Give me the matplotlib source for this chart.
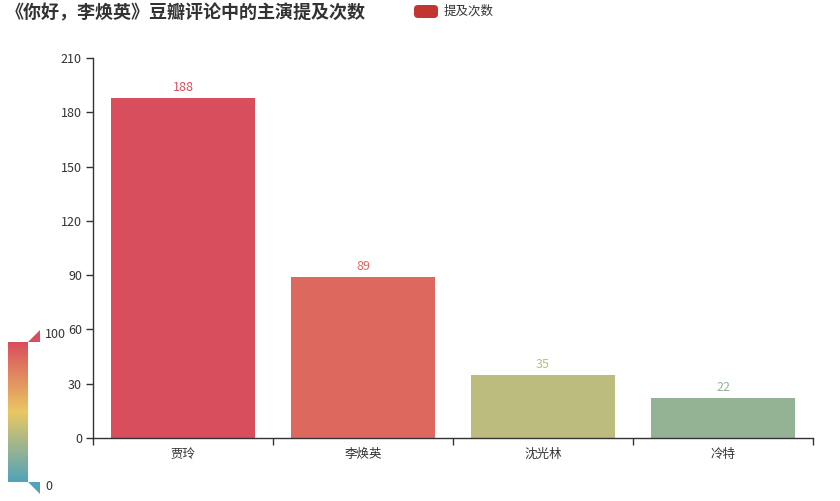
import matplotlib
matplotlib.use("Agg")
import matplotlib.pyplot as plt
import numpy as np
from matplotlib.colors import LinearSegmentedColormap, Normalize
from matplotlib.patches import Polygon, FancyBboxPatch

plt.rcParams['font.family'] = ['Noto Sans CJK SC', 'DejaVu Sans']

title = "《你好，李焕英》豆瓣评论中的主演提及次数"
series_name = "提及次数"
categories = ["贾玲", "李焕英", "沈光林", "冷特"]
values = [188, 89, 35, 22]
y_ticks = [0, 30, 60, 90, 120, 150, 180, 210]
vm_min, vm_max = 0, 100
vm_colors = ["#50a3ba", "#eac763", "#d94e5d"]

W, H = 840, 501
fig = plt.figure(figsize=(W / 100, H / 100), dpi=100)

cmap = LinearSegmentedColormap.from_list("vm", vm_colors)
norm = Normalize(vm_min, vm_max)

ax = fig.add_axes([93 / W, 1 - 438 / H, 720 / W, 380 / H])
x = np.arange(len(categories))
bar_colors = [cmap(norm(min(max(v, vm_min), vm_max))) for v in values]
ax.bar(x, values, width=0.8, color=bar_colors, zorder=2)
ax.set_xlim(-0.5, len(categories) - 0.5)
ax.set_ylim(0, 210)
ax.set_yticks(y_ticks)
ax.set_yticklabels([str(t) for t in y_ticks])
ax.set_xticks(x)
ax.set_xticklabels(categories)
ax.set_xticks(np.arange(len(categories) + 1) - 0.5, minor=True)
ax.tick_params(axis='x', which='major', length=0, pad=7, labelsize=9, labelcolor='#333333')
ax.tick_params(axis='x', which='minor', length=5, color='#333333', width=1)
ax.tick_params(axis='y', length=5, color='#333333', width=1, pad=3, labelsize=9, labelcolor='#333333')
for s in ['top', 'right']:
    ax.spines[s].set_visible(False)
for s in ['left', 'bottom']:
    ax.spines[s].set_color('#333333')
    ax.spines[s].set_linewidth(1)

for xi, v, c in zip(x, values, bar_colors):
    ax.annotate(str(v), (xi, v), xytext=(0, 3), textcoords='offset points',
                ha='center', va='bottom', fontsize=9, color=c)

# overlay in pixel coordinates
ov = fig.add_axes([0, 0, 1, 1], zorder=5)
ov.set_xlim(0, W)
ov.set_ylim(H, 0)
ov.axis('off')
ov.patch.set_alpha(0)

ov.text(6, 13, title, fontsize=13, fontweight='bold', color='#333333', va='center', ha='left')

leg = FancyBboxPatch((414, 5), 24, 13, boxstyle="round,pad=0,rounding_size=4",
                     facecolor='#c23531', edgecolor='none')
ov.add_patch(leg)
ov.text(444, 11.5, series_name, fontsize=9, color='#333333', va='center', ha='left')

# visual map
grad = np.linspace(1, 0, 256).reshape(-1, 1)
ov.imshow(grad, cmap=cmap, aspect='auto', extent=(8, 28, 482, 342), vmin=0, vmax=1)
ov.set_xlim(0, W)
ov.set_ylim(H, 0)
ov.add_patch(Polygon([(28, 342), (40, 342), (40, 330)], closed=True,
                     facecolor=cmap(norm(vm_max)), edgecolor='none'))
ov.add_patch(Polygon([(28, 482), (40, 482), (40, 494)], closed=True,
                     facecolor=cmap(norm(vm_min)), edgecolor='none'))
ov.text(45, 335, str(vm_max), fontsize=9, color='#333333', va='center', ha='left')
ov.text(45, 487, str(vm_min), fontsize=9, color='#333333', va='center', ha='left')

fig.savefig("out.png", dpi=100)
